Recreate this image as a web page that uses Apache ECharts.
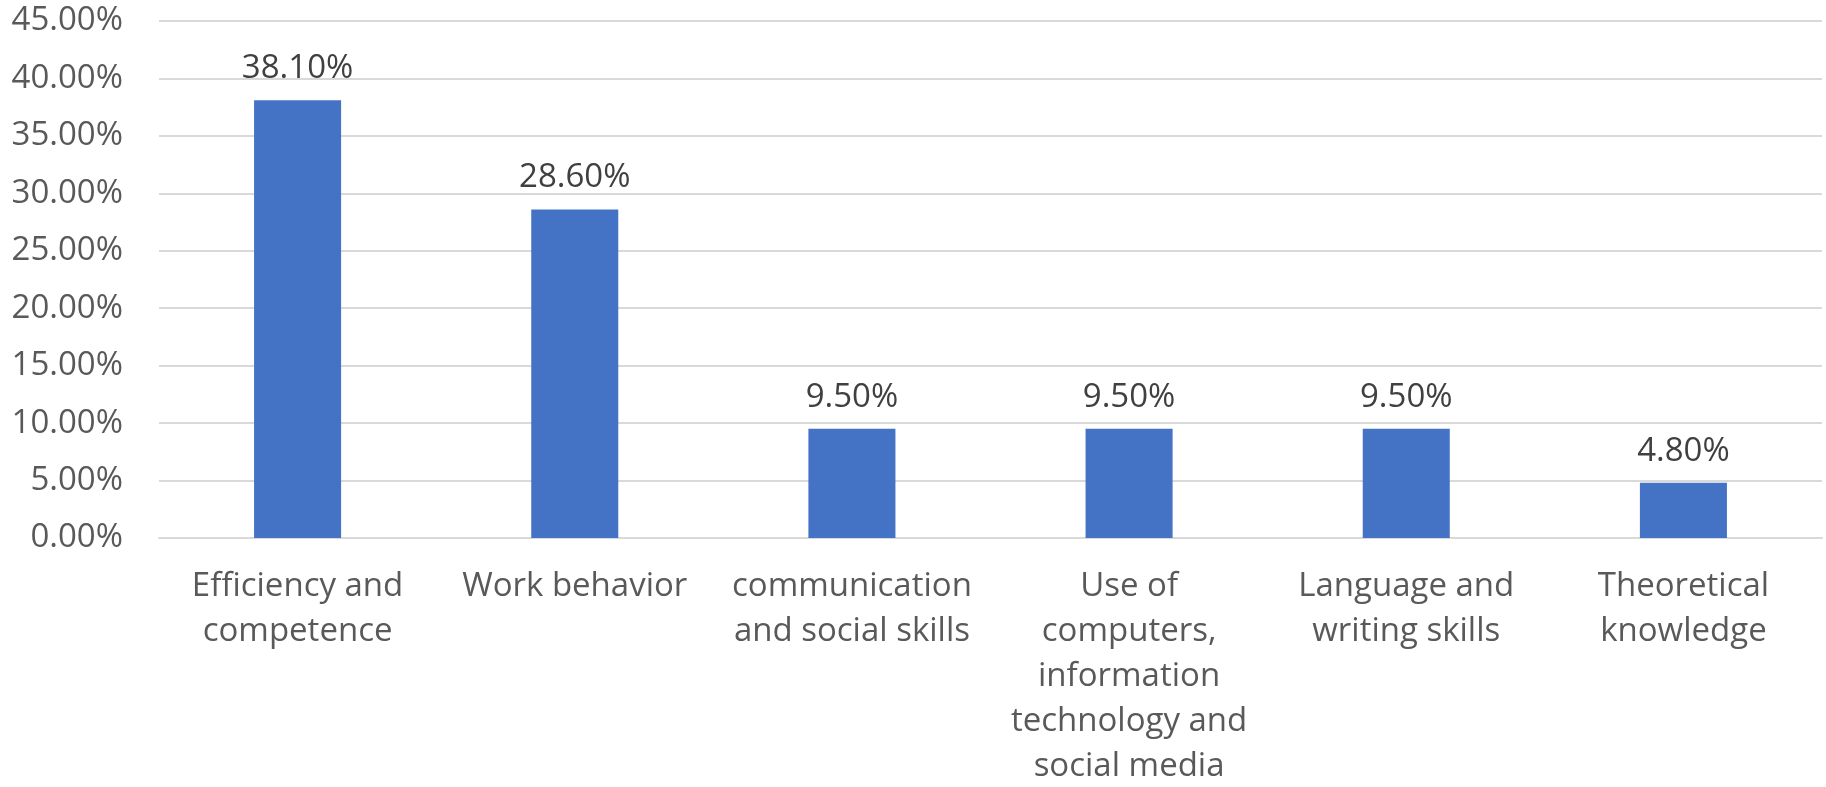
<!DOCTYPE html>
<html>
<head>
<meta charset="utf-8">
<script src="https://cdn.jsdelivr.net/npm/echarts@6/dist/echarts.min.js"></script>
<style>html,body{margin:0;padding:0;background:#fff}#c{width:1826px;height:787px}</style>
</head>
<body>
<div id="c"></div>
<script>
const categories = [
  "Efficiency and\ncompetence",
  "Work behavior",
  "communication\nand social skills",
  "Use of\ncomputers,\ninformation\ntechnology and\nsocial media",
  "Language and\nwriting skills",
  "Theoretical\nknowledge"
];
const values = [38.1, 28.6, 9.5, 9.5, 9.5, 4.8];
const yMin = 0, yMax = 45, yStep = 5;

const FONT = "Open Sans";
const chart = echarts.init(document.getElementById('c'), null, {renderer: 'canvas'});
chart.setOption({
  animation: false,
  backgroundColor: '#ffffff',
  grid: {left: 159, right: 4, top: 21, bottom: 249, containLabel: false, outerBoundsMode: 'none'},
  xAxis: {
    type: 'category',
    data: categories,
    axisLine: {show: true, lineStyle: {color: '#d9d9d9', width: 2}},
    axisTick: {show: false},
    axisLabel: {
      interval: 0, color: '#595959', fontFamily: FONT, fontSize: 33,
      lineHeight: 45, margin: 26
    }
  },
  yAxis: {
    type: 'value', min: yMin, max: yMax, interval: yStep,
    axisLine: {show: false}, axisTick: {show: false},
    splitLine: {lineStyle: {color: '#d9d9d9', width: 2}},
    axisLabel: {
      color: '#595959', fontFamily: FONT, fontSize: 33, margin: 36,
      formatter: v => v.toFixed(2) + '%'
    }
  },
  series: [{
    type: 'bar',
    data: values,
    barWidth: '31.4%',
    itemStyle: {color: '#4472c4'},
    label: {
      show: true, position: 'top', distance: 15,
      color: '#404040', fontFamily: FONT, fontSize: 33,
      formatter: p => p.value.toFixed(2) + '%'
    }
  }]
});
</script>
</body>
</html>
